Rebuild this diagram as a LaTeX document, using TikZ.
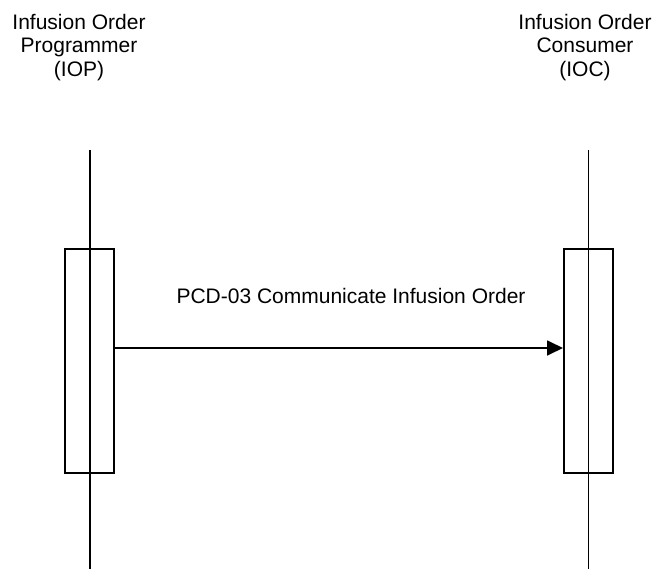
\documentclass[tikz,border=0pt]{standalone}
\usepackage{fontspec}
\setmainfont{Liberation Sans}
\usetikzlibrary{arrows.meta}
\begin{document}
\begin{tikzpicture}[x=1pt,y=-1pt,
  lifeline/.style={line width=1.6pt,black},
  actbox/.style={draw=black,line width=1.6pt,fill=white,minimum width=49pt,minimum height=224pt,inner sep=0pt},
  title/.style={align=center,font=\fontsize{21}{23.5}\selectfont,inner sep=0pt,anchor=base},
  msg/.style={line width=1.8pt,-{Triangle[length=16pt,width=15pt]}},
  msglabel/.style={font=\fontsize{21}{23.5}\selectfont,inner sep=0pt,anchor=base}]
\useasboundingbox (0,0) rectangle (656,570);
\node[title] (ioptitle) at (79,76) {Infusion Order\\Programmer\\(IOP)};
\node[title] (ioctitle) at (585,76) {Infusion Order\\Consumer\\(IOC)};
\coordinate (ioptop) at (89.7,150);
\coordinate (iopbot) at (89.7,569);
\coordinate (ioctop) at (588.5,150);
\coordinate (iocbot) at (588.5,569);
\node[actbox] (iopbox) at (89.5,361) {};
\node[actbox] (iocbox) at (588.3,361) {};
\draw[lifeline] (ioptop) -- (iopbot);
\draw[lifeline] (ioctop) -- (iocbot);
\draw[msg] ([yshift=13pt]iopbox.east) -- ([yshift=13pt]iocbox.west);
\node[msglabel] (msgtext) at (351,303) {PCD-03 Communicate Infusion Order};
\end{tikzpicture}
\end{document}
